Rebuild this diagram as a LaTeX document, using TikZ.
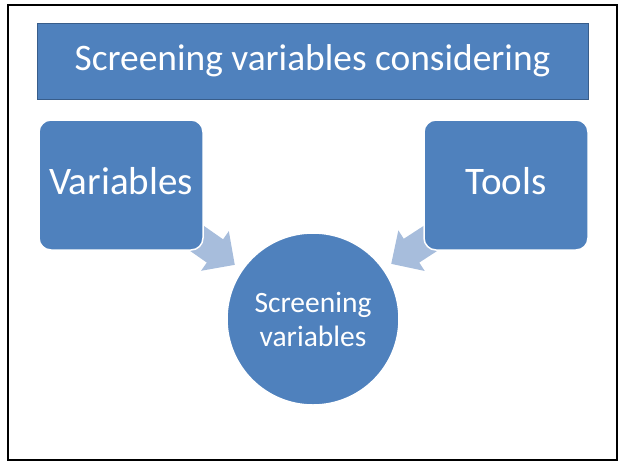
\documentclass[tikz,border=0pt]{standalone}
\usepackage{fontspec}
\setmainfont{Carlito}
\usetikzlibrary{shapes.arrows}
\definecolor{boxblue}{RGB}{79,129,189}
\definecolor{boxline}{RGB}{56,93,138}
\definecolor{arrowblue}{RGB}{167,189,220}
\begin{document}
\begin{tikzpicture}[x=1pt, y=-1pt, every node/.style={text=white, inner sep=0pt},
	sidebox/.style={draw=white, line width=1.5pt, fill=boxblue, rounded corners=12pt, minimum width=164pt, minimum height=130pt, text depth=8pt, font=\fontsize{39}{46}\selectfont},
	fatarrow/.style={single arrow, fill=arrowblue, inner xsep=0pt, inner ysep=14pt, single arrow head extend=10pt, minimum height=62pt, anchor=tip}]
	
	\useasboundingbox (0,0) rectangle (621,461);
	\draw[line width=2.2pt] (8,5) rectangle (617,460);
	
	\node[draw=boxline, line width=1pt, fill=boxblue, minimum width=551pt, minimum height=76pt, font=\fontsize{37.4}{44}\selectfont] (title) at (312.5,61) {Screening variables considering};
	
	\coordinate (lefttip) at (235,265);
	\coordinate (righttip) at (391,264);
	\node[fatarrow, rotate=-35] (leftarrow) at (lefttip) {};
	\node[fatarrow, rotate=-147] (rightarrow) at (righttip) {};
	
	\node[sidebox] (variables) at (121,185) {Variables};
	\node[sidebox] (tools) at (506,185) {Tools};
	
	\node[circle, draw=white, line width=1.5pt, fill=boxblue, minimum size=172pt, align=center, font=\fontsize{29.5}{34}\selectfont] (screening) at (313,319) {Screening\\variables};
	
\end{tikzpicture}
\end{document}
